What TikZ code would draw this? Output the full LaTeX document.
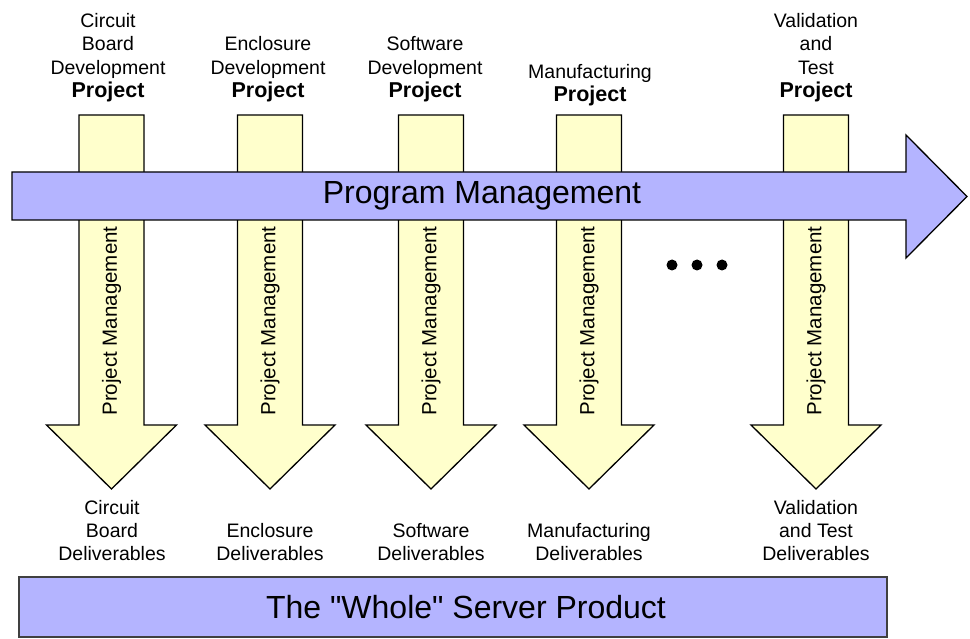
\documentclass[tikz,border=0pt]{standalone}
\usepackage{fontspec}
\setmainfont{Liberation Sans}
\definecolor{pmblue}{RGB}{180,180,255}
\definecolor{pyellow}{RGB}{255,255,204}
\tikzset{
  outl/.style={draw=black, line width=1.3pt, line join=miter},
  toplbl/.style={align=center, inner sep=0pt, anchor=base, font=\fontsize{19.5}{23.5}\selectfont},
  botlbl/.style={align=center, inner sep=0pt, anchor=base, font=\fontsize{19.5}{23}\selectfont},
  vlbl/.style={rotate=90, inner sep=0pt, font=\fontsize{20.5}{22}\selectfont},
  biglbl/.style={inner sep=0pt, font=\fontsize{32}{36}\selectfont},
  dotm/.style={fill=black, circle, inner sep=0pt, minimum size=11pt}
}
\newcommand{\pj}{{\fontsize{21.5}{23.5}\selectfont\bfseries Project}}
\begin{document}
\begin{tikzpicture}[x=1pt,y=-1pt]
\useasboundingbox (0,0) rectangle (970,639);
% vertical project arrows
\foreach \c/\n in {111.5/a,270/b,431/c,589/d,816/e}{
  \draw[outl, fill=pyellow] ({\c-32.5},115) -- ({\c+32.5},115) -- ({\c+32.5},425)
     -- ({\c+65},425) -- (\c,489) -- ({\c-65},425) -- ({\c-32.5},425) -- cycle;
  \node[vlbl] (pm\n) at (\c,321) {Project Management};
}
% program management arrow
\draw[outl, fill=pmblue] (12,172) -- (906,172) -- (906,135) -- (967,196.5)
   -- (906,258) -- (906,220) -- (12,220) -- cycle;
\node[biglbl] (prog) at (482,196) {Program Management};
% dots
\node[dotm] (d1) at (672,265) {};
\node[dotm] (d2) at (697,265) {};
\node[dotm] (d3) at (722,265) {};
% top labels
\node[toplbl] (t1) at (108,98) {Circuit\\Board\\Development\\\pj};
\node[toplbl] (t2) at (268,98) {Enclosure\\Development\\\pj};
\node[toplbl] (t3) at (425,98) {Software\\Development\\\pj};
\node[toplbl] (t4) at (590,102) {Manufacturing\\\pj};
\node[toplbl] (t5) at (816,98) {Validation\\and\\Test\\\pj};
% bottom labels
\node[botlbl] (b1) at (112,560) {Circuit\\Board\\Deliverables};
\node[botlbl] (b2) at (270,560) {Enclosure\\Deliverables};
\node[botlbl] (b3) at (431,560) {Software\\Deliverables};
\node[botlbl] (b4) at (589,560) {Manufacturing\\Deliverables};
\node[botlbl] (b5) at (816,560) {Validation\\and Test\\Deliverables};
% whole product box
\draw[draw=black!75, line width=1.3pt, fill=pmblue] (19,577) rectangle (887,637);
\node[biglbl] (whole) at (466,607) {The \textquotedbl Whole\textquotedbl{} Server Product};
\end{tikzpicture}
\end{document}
